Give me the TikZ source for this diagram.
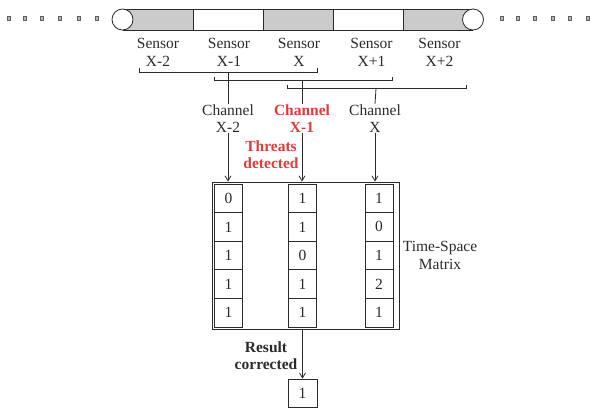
\documentclass[tikz,border=0pt]{standalone}
\usepackage{fontspec}
\setmainfont{Liberation Serif}
\usetikzlibrary{arrows.meta}
\definecolor{ink}{HTML}{2A2A2A}
\definecolor{cablegray}{HTML}{CBCBCB}
\definecolor{alert}{HTML}{E03A3A}
\tikzset{
  lbl/.style={align=center, inner sep=0pt, text=ink,
    font=\fontsize{15.5}{17.5}\selectfont},
  redlbl/.style={lbl, text=alert, font=\fontsize{15.5}{17.5}\selectfont\bfseries},
  boldlbl/.style={lbl, font=\fontsize{15.5}{17.5}\selectfont\bfseries},
  cell/.style={draw=ink, line width=0.8pt, minimum width=28pt, minimum height=28.6pt,
    inner sep=0pt, text=ink, font=\fontsize{15.5}{17.5}\selectfont},
  wire/.style={draw=ink, line width=0.8pt},
  arr/.style={wire, -{Straight Barb[length=5pt,width=6pt]}},
  dot/.style={rectangle, draw=ink!75, fill=ink!35, line width=0.7pt, minimum size=3.4pt, inner sep=0pt},
  seg/.style={draw=ink, line width=0.8pt},
}
\begin{document}
\begin{tikzpicture}[x=1pt,y=-1pt]
\useasboundingbox (0,0) rectangle (593,408);

% cable with five sensor segments
\fill[cablegray] (122.5,9.5) rectangle (193,30);
\fill[white]     (193,9.5) rectangle (263,30);
\fill[cablegray] (263,9.5) rectangle (333,30);
\fill[white]     (333,9.5) rectangle (403,30);
\fill[cablegray] (403,9.5) rectangle (473,30);
\draw[seg] (122.5,9.5) -- (473,9.5) (122.5,30) -- (473,30);
\foreach \x in {193,263,333,403} \draw[seg] (\x,9.5) -- (\x,30);
\node[circle, draw=ink, fill=white, line width=0.8pt, minimum size=21pt, inner sep=0pt] (endL) at (122.5,19.5) {};
\node[circle, draw=ink, fill=white, line width=0.8pt, minimum size=21pt, inner sep=0pt] (endR) at (473,19.5) {};

% continuation dots
\foreach \x [count=\i] in {9,25,42,60,79,97} \node[dot] (dl\i) at (\x,18.5) {};
\foreach \x [count=\i] in {502,518,535,553,570,588} \node[dot] (dr\i) at (\x,18.5) {};

% sensor labels
\node[lbl] (s1) at (158,52.5) {Sensor\\X-2};
\node[lbl] (s2) at (229,52.5) {Sensor\\X-1};
\node[lbl] (s3) at (299,52.5) {Sensor\\X};
\node[lbl] (s4) at (371.5,52.5) {Sensor\\X+1};
\node[lbl] (s5) at (439.5,52.5) {Sensor\\X+2};

% groups of three sensors
\draw[wire] (139,67.5) -- (139,72) -- (317,72) -- (317,67.5);
\draw[wire] (214,76.5) -- (214,80.5) -- (392,80.5) -- (392,76.5);
\draw[wire] (287,84.5) -- (287,88.5) -- (466,88.5) -- (466,84.5);
\coordinate (g1) at (228,72);
\coordinate (g2) at (302,80.5);
\coordinate (g3) at (376,88.5);

% channel labels
\node[lbl] (c1) at (228,118.5) {Channel\\X-2};
\node[redlbl] (c2) at (302,118.5) {Channel\\X-1};
\node[lbl] (c3) at (375,118.5) {Channel\\X};
\node[redlbl] (threat) at (271,154.5) {Threats\\detected};

\draw[wire] (g1) -- (c1.north);
\draw[wire] (g2) -- (c2.north);
\draw[wire] (g3) -- (c3.north);

% time-space matrix
\node[draw=ink, line width=0.9pt, minimum width=187pt, minimum height=147pt, inner sep=0pt] (mat) at (305.5,255.5) {};
\foreach \v [count=\r] in {0,1,1,1,1} \node[cell] (a\r) at (228.5,{184+28.6*(\r-0.5)}) {\v};
\foreach \v [count=\r] in {1,1,0,1,1} \node[cell] (b\r) at (302.5,{184+28.6*(\r-0.5)}) {\v};
\foreach \v [count=\r] in {1,0,1,2,1} \node[cell] (d\r) at (379,{184+28.6*(\r-0.5)}) {\v};
\node[lbl] (tsm) at (440,255.5) {Time-Space\\Matrix};

\draw[arr] (c1.south) -- (c1.south |- mat.north);
\draw[arr] (c2.south) -- (c2.south |- mat.north);
\draw[arr] (c3.south) -- (c3.south |- mat.north);

% corrected result
\node[cell, minimum width=29pt, minimum height=28pt] (res) at (302.5,393) {1};
\node[boldlbl, text=ink] (rc) at (266,355.5) {Result\\corrected};
\draw[arr] (res.north |- mat.south) -- (res.north);
\end{tikzpicture}
\end{document}
